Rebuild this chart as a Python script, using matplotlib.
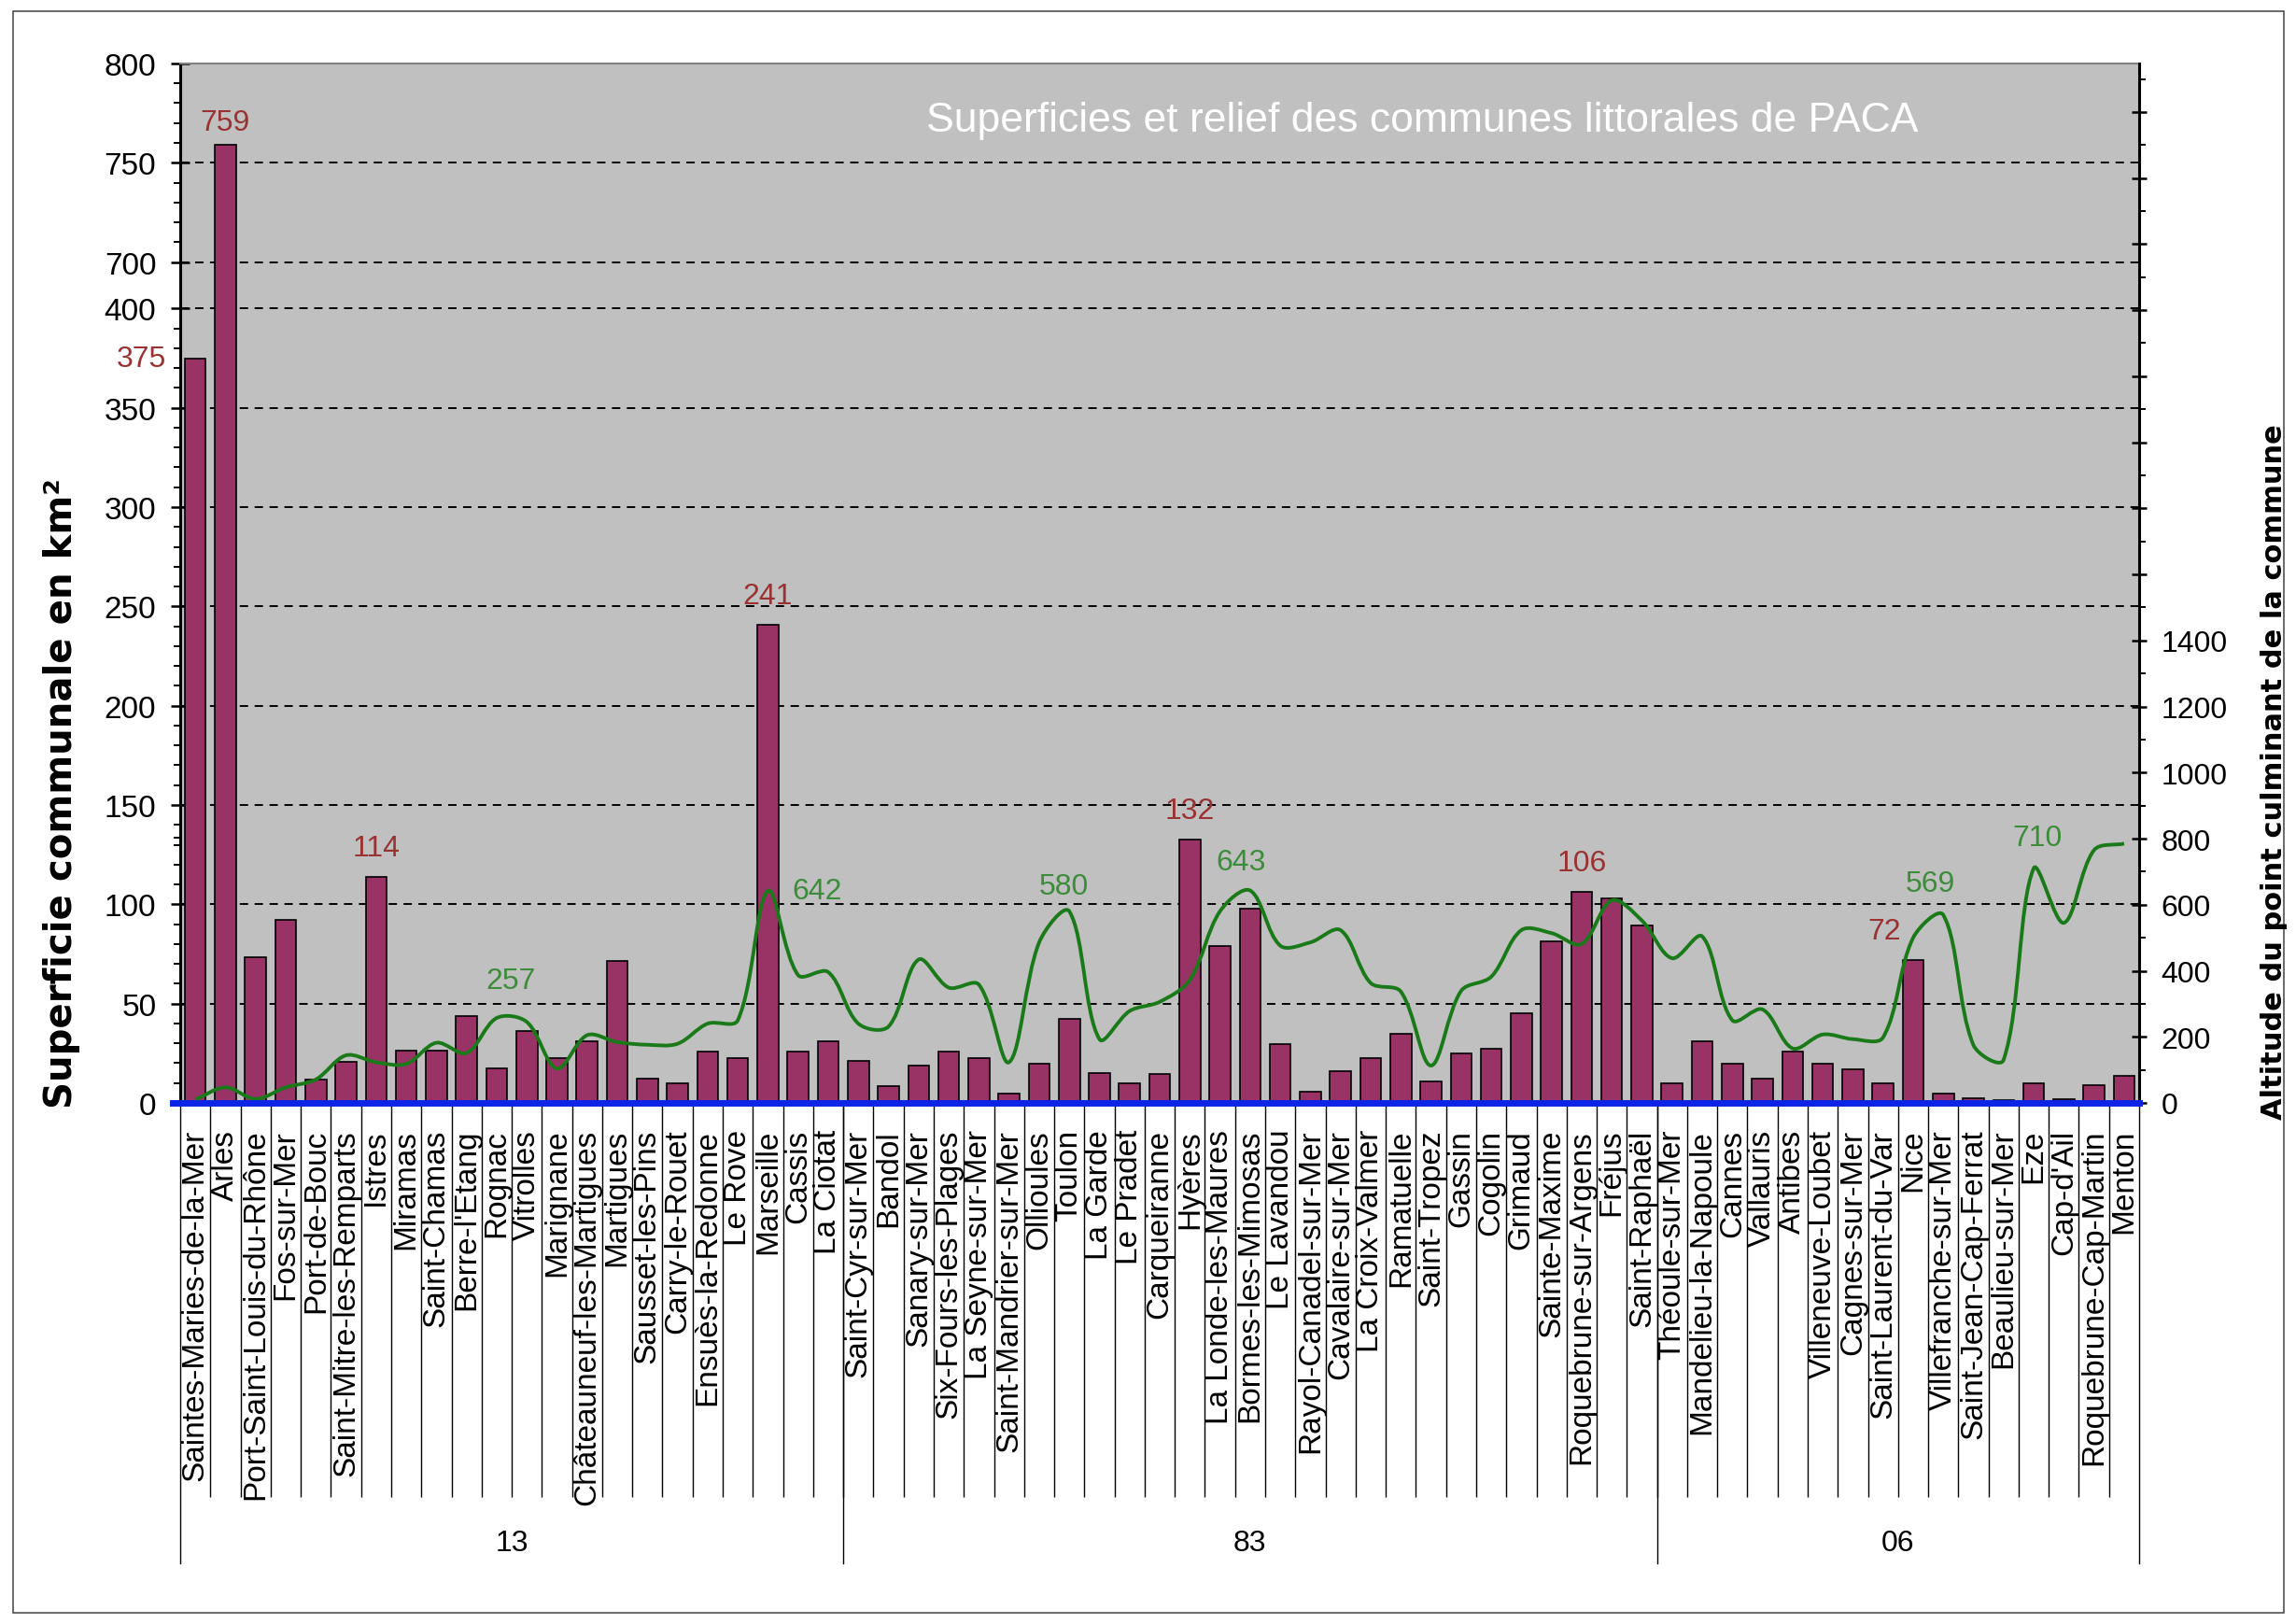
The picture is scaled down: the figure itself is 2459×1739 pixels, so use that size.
import numpy as np
import matplotlib
matplotlib.use("Agg")
import matplotlib.pyplot as plt
from matplotlib.path import Path
from matplotlib.patches import PathPatch, Rectangle
from matplotlib.ticker import FixedLocator, MultipleLocator, FuncFormatter

# --- DATA ---
DEPARTEMENTS = ["13", "83", "06"]

COMMUNES_13 = ["Saintes-Maries-de-la-Mer", "Arles", "Port-Saint-Louis-du-Rhône", "Fos-sur-Mer",
               "Port-de-Bouc", "Saint-Mitre-les-Remparts", "Istres", "Miramas", "Saint-Chamas",
               "Berre-l'Etang", "Rognac", "Vitrolles", "Marignane", "Châteauneuf-les-Martigues",
               "Martigues", "Sausset-les-Pins", "Carry-le-Rouet", "Ensuès-la-Redonne", "Le Rove",
               "Marseille", "Cassis", "La Ciotat"]
COMMUNES_83 = ["Saint-Cyr-sur-Mer", "Bandol", "Sanary-sur-Mer", "Six-Fours-les-Plages",
               "La Seyne-sur-Mer", "Saint-Mandrier-sur-Mer", "Ollioules", "Toulon", "La Garde",
               "Le Pradet", "Carqueiranne", "Hyères", "La Londe-les-Maures", "Bormes-les-Mimosas",
               "Le Lavandou", "Rayol-Canadel-sur-Mer", "Cavalaire-sur-Mer", "La Croix-Valmer",
               "Ramatuelle", "Saint-Tropez", "Gassin", "Cogolin", "Grimaud", "Sainte-Maxime",
               "Roquebrune-sur-Argens", "Fréjus", "Saint-Raphaël"]
COMMUNES_06 = ["Théoule-sur-Mer", "Mandelieu-la-Napoule", "Cannes", "Vallauris", "Antibes",
               "Villeneuve-Loubet", "Cagnes-sur-Mer", "Saint-Laurent-du-Var", "Nice",
               "Villefranche-sur-Mer", "Saint-Jean-Cap-Ferrat", "Beaulieu-sur-Mer", "Eze",
               "Cap-d'Ail", "Roquebrune-Cap-Martin", "Menton"]

# superficie in km2
SUPERFICIE_13 = [374.6, 758.9, 73.4, 92.3, 11.6, 20.6, 113.8, 26.1, 26.1, 43.6, 17.4, 36.3,
                 22.7, 31.2, 71.5, 12.1, 9.8, 26.0, 22.4, 240.6, 26.0, 31.2]
SUPERFICIE_83 = [21.1, 8.4, 18.6, 26.0, 22.4, 4.7, 19.7, 42.3, 15.0, 9.8, 14.7, 132.4, 78.9,
                 97.8, 29.7, 5.8, 15.8, 22.4, 34.7, 10.7, 24.8, 27.3, 45.0, 81.5, 106.3, 102.8,
                 89.1]
SUPERFICIE_06 = [9.8, 31.0, 19.7, 12.1, 26.0, 19.7, 17.0, 9.8, 71.9, 4.7, 2.4, 1.3, 9.8, 2.0,
                 8.7, 13.4]

# altitude du point culminant in m
ALTITUDE_13 = [10, 47, 12, 47, 71, 144, 123, 118, 182, 151, 257, 245, 104, 205, 184, 176, 179,
               240, 250, 642, 387, 396]
ALTITUDE_83 = [240, 231, 434, 349, 358, 123, 486, 580, 193, 278, 306, 372, 580, 643, 476, 486,
               523, 363, 337, 113, 339, 382, 523, 514, 481, 613, 552]
ALTITUDE_06 = [438, 504, 250, 283, 165, 207, 193, 198, 500, 569, 175, 130, 710, 545, 765, 785]

LABELS_SUPERFICIE = ["Saintes-Maries-de-la-Mer", "Arles", "Istres", "Marseille", "Hyères",
                     "Roquebrune-sur-Argens", "Nice"]
LABELS_ALTITUDE = ["Rognac", "Marseille", "Toulon", "Bormes-les-Mimosas",
                   "Villefranche-sur-Mer", "Eze"]

TITLE = "Superficies et relief des communes littorales de PACA"
YLABEL_LEFT = "Superficie communale en km²"
YLABEL_RIGHT = "Altitude du point culminant de la commune"

# broken left axis: 400 -> 700 squeezed into a small gap
BREAK_LOW, BREAK_HIGH, BREAK_GAP = 400, 700, 23.4
LEFT_TICKS = [0, 50, 100, 150, 200, 250, 300, 350, 400, 700, 750, 800]
RIGHT_MAX = 3147

# --- STYLE ---
BAR_COLOR = "#993366"
PLOT_BG = "#c0c0c0"
LINE_GREEN = "#1a7a1a"
LABEL_RED = "#993333"
LABEL_GREEN = "#3c8c3c"
AXIS_BLUE = "#0b24e6"
FONT = "Liberation Sans"

# label offsets in points (dx, dy)
SUP_OFFSETS = {"Saintes-Maries-de-la-Mer": (-14, 0), "Arles": (0, 12), "Nice": (-22, 16.5)}
ALT_OFFSETS = {"Rognac": (11, 29), "Marseille": (38, 0), "Toulon": (-4, 19),
               "Bormes-les-Mimosas": (-7, 22), "Villefranche-sur-Mer": (-10, 24),
               "Eze": (3, 24)}


def to_plot(v):
    v = np.asarray(v, dtype=float)
    return np.where(v <= BREAK_LOW, v, v - (BREAK_HIGH - BREAK_LOW - BREAK_GAP))


def smooth_path(xs, ys, sx, sy):
    # Excel-like smoothed line: bezier segments, tangents weighted by chord length
    P = np.column_stack([np.asarray(xs, float) * sx, np.asarray(ys, float) * sy])
    n = len(P)
    verts = [P[0]]
    codes = [Path.MOVETO]
    for i in range(n - 1):
        p0 = P[i - 1] if i > 0 else P[i]
        p1, p2 = P[i], P[i + 1]
        p3 = P[i + 2] if i + 2 < n else P[i + 1]
        d01 = np.hypot(*(p1 - p0))
        d12 = np.hypot(*(p2 - p1))
        d23 = np.hypot(*(p3 - p2))
        c1 = p1 + (p2 - p0) * (d12 / (d01 + d12)) / 3
        c2 = p2 - (p3 - p1) * (d12 / (d12 + d23)) / 3
        verts += [c1, c2, p2]
        codes += [Path.CURVE4] * 3
    verts = np.array(verts) / [sx, sy]
    return Path(verts, codes)


def plot_chart():
    communes = COMMUNES_13 + COMMUNES_83 + COMMUNES_06
    superficie = np.array(SUPERFICIE_13 + SUPERFICIE_83 + SUPERFICIE_06)
    altitude = np.array(ALTITUDE_13 + ALTITUDE_83 + ALTITUDE_06)
    groups = [COMMUNES_13, COMMUNES_83, COMMUNES_06]
    n = len(communes)
    x = np.arange(n)

    fig = plt.figure(figsize=(24.59, 17.40), dpi=100)
    fig.patches.append(Rectangle((0.0057, 0.0069), 0.989, 0.9857, transform=fig.transFigure,
                                 fill=False, edgecolor="#505050", lw=1.2))
    ax = fig.add_axes([0.0785, 0.3207, 0.8532, 0.6397])
    ax.set_facecolor(PLOT_BG)
    ax.set_xlim(-0.5, n - 0.5)
    ytop = float(to_plot(800))
    ax.set_ylim(0, ytop)

    # grid lines (dashed), not at 0 nor at the top
    for t in LEFT_TICKS[1:-1]:
        ax.axhline(float(to_plot(t)), color="black", lw=1.4, ls=(0, (4.6, 3.6)), zorder=0.5)

    ax.bar(x, to_plot(superficie), width=0.7, color=BAR_COLOR, edgecolor="black",
           linewidth=1.2, zorder=2)

    # left axis
    ax.yaxis.set_major_locator(FixedLocator(to_plot(LEFT_TICKS)))
    ax.set_yticklabels([str(t) for t in LEFT_TICKS], fontsize=24, family=FONT)
    minors = [v for v in range(0, 801, 10) if v <= 420 or v >= 700]
    minors = [v for v in minors if v not in LEFT_TICKS and v != 420]
    ax.yaxis.set_minor_locator(FixedLocator(to_plot(minors)))
    ax.tick_params(axis="y", which="major", direction="inout", length=15, width=1.8, pad=11)
    ax.tick_params(axis="y", which="minor", direction="out", length=5, width=1.4)

    # category labels and separators
    ax.set_xticks(x)
    ax.set_xticklabels(communes, rotation=90, fontsize=24, family=FONT, va="top", ha="center")
    ax.tick_params(axis="x", which="major", length=0, pad=20)
    ax.xaxis.set_minor_locator(FixedLocator(x[:-1] + 0.5))
    ax.tick_params(axis="x", which="minor", direction="out", length=304, width=1.0,
                   color="black")

    trans = ax.get_xaxis_transform()
    start = -0.5
    for g, grp in zip(DEPARTEMENTS, groups):
        end = start + len(grp)
        ax.plot([start, start], [0, -0.443], transform=trans, color="black", lw=1.0,
                clip_on=False)
        ax.text((start + end) / 2, -0.423, g, transform=trans, ha="center", va="center",
                fontsize=23, family=FONT)
        start = end
    ax.plot([start, start], [0, -0.443], transform=trans, color="black", lw=1.0, clip_on=False)

    for s in ["right", "bottom"]:
        ax.spines[s].set_visible(False)
    ax.spines["top"].set_color("#808080")
    ax.spines["top"].set_linewidth(1.5)
    ax.spines["left"].set_linewidth(2.2)

    # superficie labels
    for name in LABELS_SUPERFICIE:
        i = communes.index(name)
        val = superficie[i]
        dx, dy = SUP_OFFSETS.get(name, (0, 16.5))
        if name == "Saintes-Maries-de-la-Mer":
            ax.annotate(f"{val:.0f}", xy=(i - 0.35, float(to_plot(val))), xytext=(dx, dy),
                        textcoords="offset points", ha="right", va="center", fontsize=23,
                        family=FONT, color=LABEL_RED, annotation_clip=False)
        else:
            ax.annotate(f"{val:.0f}", xy=(i, float(to_plot(val))), xytext=(dx, dy),
                        textcoords="offset points", ha="center", va="baseline", fontsize=23,
                        family=FONT, color=LABEL_RED)

    # right axis: altitude
    ax2 = ax.twinx()
    ax2.set_ylim(0, RIGHT_MAX)
    fig.canvas.draw()
    bbox = ax.get_window_extent()
    sx = bbox.width / n
    sy = bbox.height / RIGHT_MAX
    path = smooth_path(x, altitude, sx, sy)
    ax2.add_patch(PathPatch(path, facecolor="none", edgecolor=LINE_GREEN, lw=2.8, zorder=3))
    ax2.axhline(0, xmin=-0.004, xmax=1.0, color=AXIS_BLUE, lw=5, zorder=4, clip_on=False)

    ax2.yaxis.set_major_locator(MultipleLocator(200))
    ax2.yaxis.set_minor_locator(MultipleLocator(100))
    ax2.yaxis.set_major_formatter(FuncFormatter(lambda v, p: f"{v:.0f}" if v <= 1400 else ""))
    ax2.tick_params(axis="y", which="major", direction="inout", length=12, width=1.8, pad=11,
                    labelsize=23)
    ax2.tick_params(axis="y", which="minor", direction="out", length=5, width=1.4)
    for lab in ax2.get_yticklabels():
        lab.set_family(FONT)
    for s in ["left", "top", "bottom"]:
        ax2.spines[s].set_visible(False)
    ax2.spines["right"].set_linewidth(2.2)

    for name in LABELS_ALTITUDE:
        i = communes.index(name)
        val = altitude[i]
        dx, dy = ALT_OFFSETS[name]
        ax2.annotate(f"{val:.0f}", xy=(i, val), xytext=(dx, dy), textcoords="offset points",
                     ha="center", va="center", fontsize=23, family=FONT, color=LABEL_GREEN)

    ax.text(0.634, 0.946, TITLE, transform=ax.transAxes, ha="center", va="center",
            fontsize=32, family=FONT, color="white")

    fig.text(0.0268, 0.5115, YLABEL_LEFT, rotation=90, ha="center", va="center",
             fontsize=29, family="DejaVu Sans", fontweight="bold")
    fig.text(0.9905, 0.525, YLABEL_RIGHT, rotation=90, ha="center", va="center",
             fontsize=22, family="DejaVu Sans", fontweight="bold")

    fig.savefig("out.png", dpi=100, facecolor="white")


if __name__ == "__main__":
    plot_chart()
